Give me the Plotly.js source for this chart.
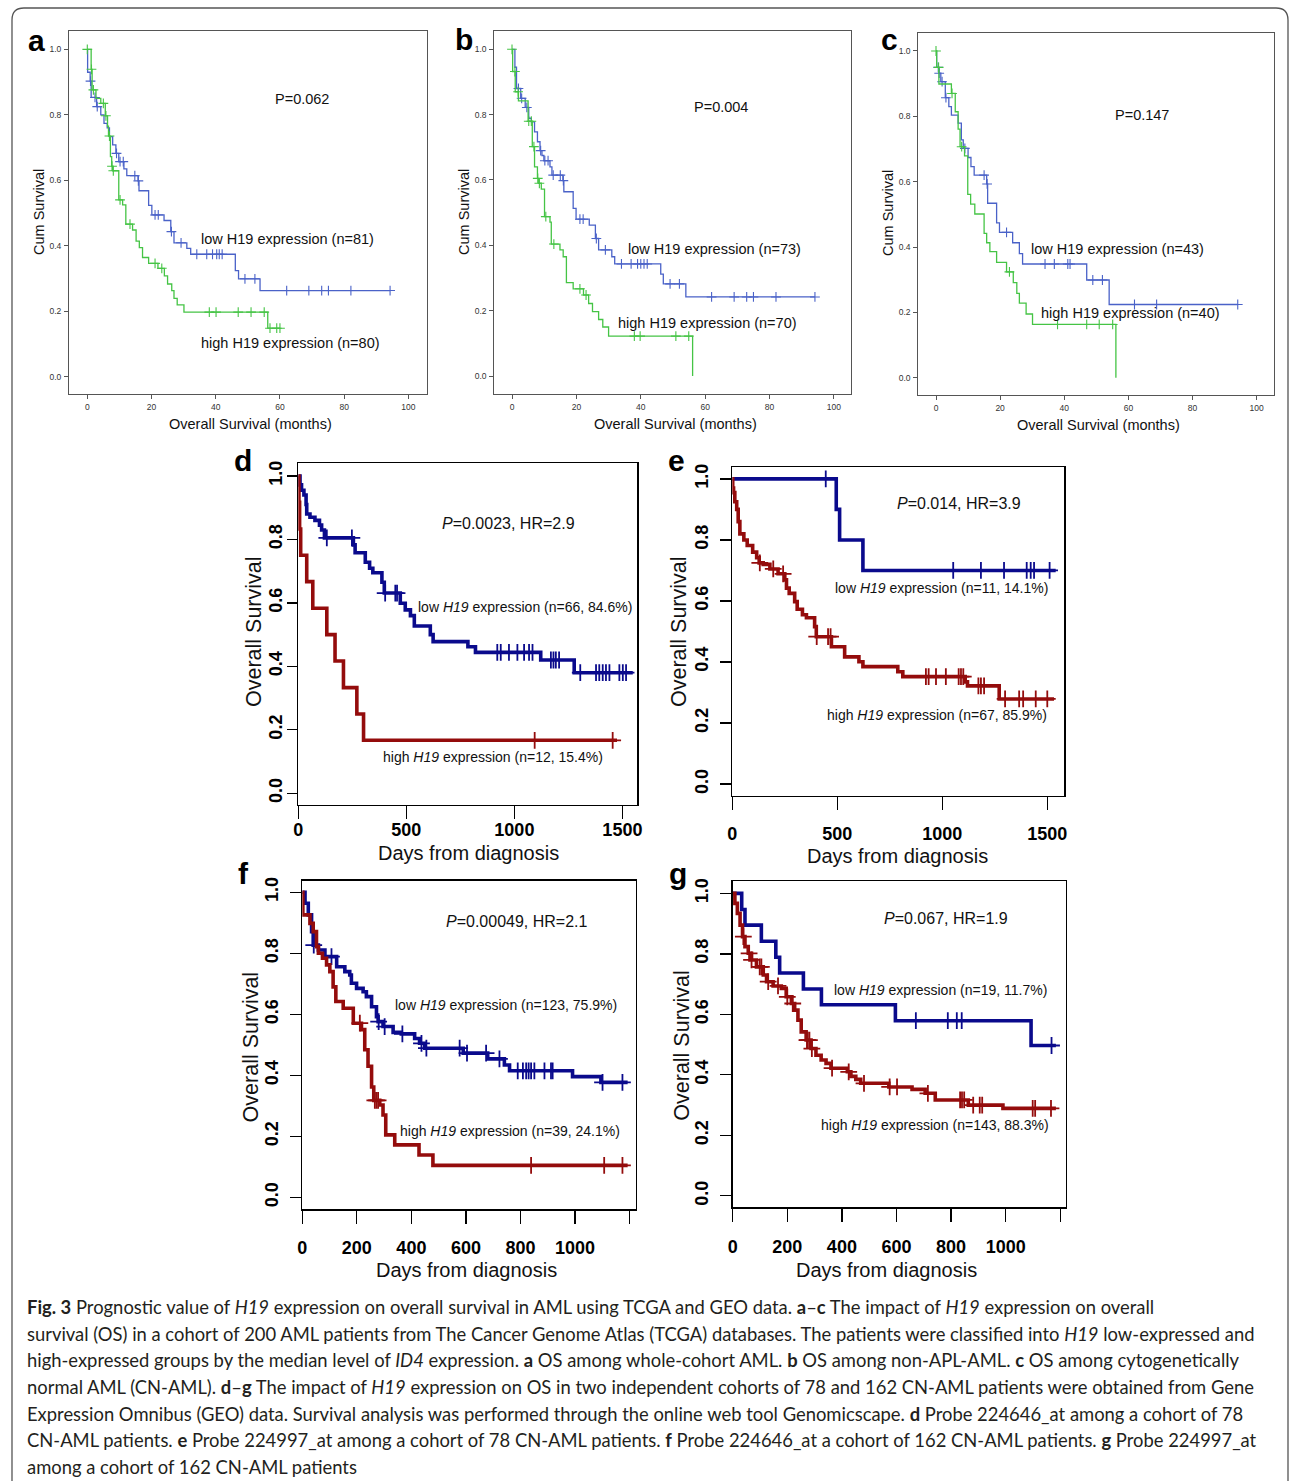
<!DOCTYPE html>
<html><head><meta charset="utf-8">
<script src="https://cdn.plot.ly/plotly-3.0.1.min.js"></script>
<style>html,body{margin:0;padding:0;background:#fff}#chart{width:1290px;height:1481px}</style>
</head><body><div id="chart"></div>
<script>
// ---------------- DATA ----------------
// Panel a (months)
const aLowT = [0, 0.1, 0.9, 1.2, 2.9, 4.2, 5.2, 6.2, 6.9, 7.9, 8.9, 9.8, 11.4, 12.3, 15.8, 16.1, 19.1, 20.1, 23.9, 26.0, 27.0, 31.0, 32.2, 46.1, 47.1, 53.8, 94.3];
const aLowS = [1.0, 0.93, 0.903, 0.853, 0.825, 0.80, 0.774, 0.76, 0.733, 0.708, 0.682, 0.657, 0.635, 0.614, 0.598, 0.568, 0.523, 0.494, 0.477, 0.443, 0.409, 0.392, 0.374, 0.324, 0.299, 0.263, 0.263];
const aLowC = [1.0, 2.4, 3.1, 9.1, 10.2, 11.2, 14.8, 15.9, 21.1, 22.1, 26.2, 29.2, 34.1, 37.2, 39.0, 40.3, 41.1, 42.0, 49.1, 52.2, 62.1, 69.0, 73.0, 75.1, 82.1, 94.3];
const aHighT = [0, 1.2, 1.5, 2.7, 4.2, 5.6, 6.3, 6.6, 7.2, 7.6, 7.9, 9.8, 11.0, 12.0, 14.1, 15.2, 16.2, 17.2, 19.1, 22.0, 24.0, 25.0, 26.3, 27.0, 28.0, 30.1, 56.2, 60.0];
const aHighS = [1.0, 0.939, 0.876, 0.85, 0.835, 0.797, 0.765, 0.735, 0.672, 0.643, 0.629, 0.54, 0.525, 0.466, 0.448, 0.414, 0.394, 0.364, 0.346, 0.331, 0.308, 0.283, 0.263, 0.239, 0.219, 0.197, 0.148, 0.148];
const aHighC = [0, 1.3, 1.9, 5.0, 5.8, 6.9, 7.7, 8.1, 10.2, 13.3, 21.1, 23.2, 38.0, 40.1, 47.0, 51.0, 55.1, 56.9, 59.0, 60.0];
// Panel b (months)
const bLowT = [0, 0.9, 1.4, 2.7, 4.1, 5.2, 6.0, 7.0, 7.9, 8.7, 9.3, 9.9, 11.8, 12.4, 15.8, 16.1, 19.0, 19.9, 24.0, 25.9, 26.9, 31.0, 31.9, 46.2, 47.0, 54.0, 94.1];
const bLowS = [1.0, 0.945, 0.88, 0.85, 0.822, 0.789, 0.778, 0.747, 0.717, 0.69, 0.675, 0.659, 0.64, 0.615, 0.598, 0.564, 0.513, 0.48, 0.462, 0.421, 0.386, 0.365, 0.343, 0.312, 0.282, 0.242, 0.242];
const bLowC = [2.0, 3.0, 4.6, 8.9, 10.2, 11.2, 12.8, 15.0, 15.95, 21.1, 22.1, 26.2, 29.0, 34, 37, 39, 40, 41, 42, 49.1, 52, 62, 69, 72.9, 75, 82, 94.1];
const bHighT = [0, 0.2, 1.0, 2.0, 5.0, 6.3, 7.0, 7.9, 8.3, 9.1, 10.1, 11.8, 12.2, 14.9, 15.9, 16.9, 19.0, 22.2, 23.8, 25.0, 26.9, 28.2, 30.0, 56.1];
const bHighS = [1.0, 0.932, 0.87, 0.842, 0.78, 0.702, 0.64, 0.605, 0.59, 0.572, 0.488, 0.471, 0.404, 0.386, 0.365, 0.286, 0.267, 0.248, 0.222, 0.197, 0.173, 0.15, 0.122, 0.0];
const bHighC = [0, 0.9, 1.9, 5.2, 6.0, 6.8, 8.0, 8.5, 10.5, 13.0, 21.1, 23.0, 38.0, 39.8, 50.9, 54.9];
// Panel c (months)
const cLowT = [0, 0.2, 0.9, 1.5, 2.9, 4.0, 4.8, 6.9, 7.9, 8.5, 10.0, 10.9, 11.9, 15.8, 16.1, 18.9, 19.8, 23.9, 26.0, 27.0, 47.0, 54.0, 94.1];
const cLowS = [1.0, 0.95, 0.932, 0.906, 0.857, 0.83, 0.804, 0.779, 0.728, 0.702, 0.674, 0.646, 0.62, 0.593, 0.534, 0.474, 0.445, 0.413, 0.38, 0.348, 0.299, 0.224, 0.224];
const cLowC = [0.7, 1.0, 1.9, 3.1, 9.0, 15.0, 15.95, 22.0, 34.0, 36.9, 41.1, 41.8, 48.9, 51.9, 61.9, 68.8, 94.1];
const cHighT = [0, 0.2, 0.9, 4.8, 6.0, 6.9, 7.5, 8.9, 9.9, 10.8, 12.1, 15.0, 15.8, 16.8, 18.9, 22.0, 24.1, 25.2, 26.0, 28.1, 30.1, 56.1];
const cHighS = [1.0, 0.95, 0.899, 0.87, 0.814, 0.761, 0.707, 0.679, 0.561, 0.531, 0.501, 0.442, 0.413, 0.386, 0.353, 0.324, 0.291, 0.258, 0.228, 0.195, 0.163, 0.0];
const cHighC = [0, 0.8, 5.0, 8.0, 22.9, 37.9, 47.0, 50.9, 55.1];
// Panel d (days)
const dLowT = [0, 8, 15, 26, 36, 39, 54, 77, 98, 108, 121, 255, 263, 310, 330, 345, 387, 398, 472, 495, 519, 537, 611, 624, 785, 820, 1122, 1277, 1548];
const dLowS = [1.0, 0.972, 0.955, 0.94, 0.91, 0.88, 0.87, 0.86, 0.845, 0.83, 0.805, 0.783, 0.758, 0.728, 0.709, 0.695, 0.665, 0.631, 0.599, 0.578, 0.56, 0.527, 0.50, 0.478, 0.462, 0.444, 0.42, 0.38, 0.38];
const dLowC = [132, 248, 402, 449, 457, 921, 937, 975, 1014, 1045, 1068, 1084, 1169, 1181, 1192, 1207, 1305, 1378, 1393, 1409, 1424, 1440, 1486, 1502, 1517];
const dHighT = [0, 3, 6, 11, 39, 67, 132, 170, 209, 271, 302, 1475];
const dHighS = [1.0, 0.917, 0.833, 0.75, 0.667, 0.583, 0.5, 0.417, 0.333, 0.25, 0.167, 0.167];
const dHighC = [1094, 1455];
// Panel e (days)
const eLowT = [0, 495, 511, 622, 1540];
const eLowS = [1.0, 0.9, 0.8, 0.7, 0.7];
const eLowC = [445, 1052, 1184, 1294, 1402, 1421, 1437, 1511];
const eHighT = [0, 2, 6, 12, 21, 28, 36, 55, 71, 97, 116, 128, 147, 179, 218, 250, 258, 271, 297, 309, 334, 353, 392, 400, 472, 535, 603, 622, 788, 812, 1109, 1120, 1271, 1532];
const eHighS = [1.0, 0.97, 0.955, 0.925, 0.9, 0.86, 0.82, 0.8, 0.782, 0.76, 0.742, 0.725, 0.72, 0.705, 0.689, 0.669, 0.642, 0.625, 0.598, 0.573, 0.555, 0.545, 0.516, 0.483, 0.45, 0.417, 0.401, 0.385, 0.368, 0.352, 0.335, 0.322, 0.279, 0.279];
const eHighC = [131, 195, 242, 402, 456, 468, 922, 935, 970, 1017, 1078, 1089, 1100, 1172, 1184, 1199, 1299, 1366, 1385, 1445, 1500];
// Panel f (days)
const fLowT = [0, 10, 22, 34, 40, 59, 83, 126, 156, 174, 180, 199, 223, 235, 254, 272, 278, 296, 333, 363, 412, 430, 449, 590, 680, 741, 760, 991, 1095, 1193];
const fLowS = [1.0, 0.964, 0.926, 0.871, 0.827, 0.811, 0.789, 0.756, 0.74, 0.729, 0.702, 0.685, 0.674, 0.658, 0.625, 0.592, 0.576, 0.56, 0.541, 0.536, 0.521, 0.505, 0.489, 0.473, 0.454, 0.434, 0.415, 0.396, 0.377, 0.377];
const fLowC = [42, 107, 280, 302, 367, 437, 455, 577, 604, 674, 723, 790, 809, 821, 830, 839, 851, 888, 912, 918, 1101, 1174];
const fHighT = [0, 2, 28, 40, 52, 59, 74, 89, 101, 113, 123, 150, 187, 217, 229, 241, 254, 262, 284, 296, 306, 339, 428, 479, 1193];
const fHighS = [1.0, 0.926, 0.898, 0.871, 0.822, 0.80, 0.784, 0.762, 0.74, 0.69, 0.642, 0.62, 0.571, 0.55, 0.484, 0.43, 0.362, 0.318, 0.303, 0.27, 0.205, 0.172, 0.139, 0.105, 0.105];
const fHighC = [211, 266, 272, 278, 839, 1107, 1174];
// Panel g (days)
const gLowT = [0, 33, 45, 105, 158, 172, 259, 325, 596, 1093, 1184];
const gLowS = [1.0, 0.947, 0.895, 0.842, 0.789, 0.737, 0.684, 0.632, 0.579, 0.497, 0.497];
const gLowC = [671, 788, 821, 839, 1168];
const gHighT = [0, 8, 17, 27, 36, 45, 57, 69, 87, 112, 124, 148, 178, 196, 215, 227, 239, 251, 269, 287, 305, 324, 342, 360, 420, 433, 451, 469, 572, 657, 705, 742, 863, 990, 1184];
const gHighS = [1.0, 0.967, 0.934, 0.895, 0.857, 0.824, 0.802, 0.78, 0.757, 0.73, 0.708, 0.694, 0.686, 0.658, 0.636, 0.614, 0.581, 0.542, 0.515, 0.487, 0.465, 0.449, 0.438, 0.422, 0.41, 0.395, 0.385, 0.372, 0.36, 0.352, 0.339, 0.317, 0.30, 0.289, 0.289];
const gHighC = [39, 60, 69, 99, 105, 130, 166, 200, 220, 272, 275, 281, 290, 364, 425, 481, 575, 602, 715, 833, 840, 848, 881, 905, 914, 1099, 1108, 1166];

// Texts
const pValues = ["P=0.062", "P=0.004", "P=0.147", "<i>P</i>=0.0023, HR=2.9", "<i>P</i>=0.014, HR=3.9", "<i>P</i>=0.00049, HR=2.1", "<i>P</i>=0.067, HR=1.9"];
const lowLabels = ["low H19 expression (n=81)", "low H19 expression (n=73)", "low H19 expression (n=43)",
  "low <i>H19</i> expression (n=66, 84.6%)", "low <i>H19</i> expression (n=11, 14.1%)", "low <i>H19</i> expression (n=123, 75.9%)", "low <i>H19</i> expression (n=19, 11.7%)"];
const highLabels = ["high H19 expression (n=80)", "high H19 expression (n=70)", "high H19 expression (n=40)",
  "high <i>H19</i> expression (n=12, 15.4%)", "high <i>H19</i> expression (n=67, 85.9%)", "high <i>H19</i> expression (n=39, 24.1%)", "high <i>H19</i> expression (n=143, 88.3%)"];
const panelLetters = ["a", "b", "c", "d", "e", "f", "g"];
const spssXTicks = [0, 20, 40, 60, 80, 100];
const survTicks = [0, 0.2, 0.4, 0.6, 0.8, 1.0];
const dayTicksDE = [0, 500, 1000, 1500];
const dayTicksFG = [0, 200, 400, 600, 800, 1000, 1200];
const dayTextFG = ["0", "200", "400", "600", "800", "1000", ""];
const captionLines = [
  "<b>Fig. 3</b> Prognostic value of <i>H19</i> expression on overall survival in AML using TCGA and GEO data. <b>a</b>–<b>c</b> The impact of <i>H19</i> expression on overall",
  "survival (OS) in a cohort of 200 AML patients from The Cancer Genome Atlas (TCGA) databases. The patients were classified into <i>H19</i> low-expressed and",
  "high-expressed groups by the median level of <i>ID4</i> expression. <b>a</b> OS among whole-cohort AML. <b>b</b> OS among non-APL-AML. <b>c</b> OS among cytogenetically",
  "normal AML (CN-AML). <b>d</b>–<b>g</b> The impact of <i>H19</i> expression on OS in two independent cohorts of 78 and 162 CN-AML patients were obtained from Gene",
  "Expression Omnibus (GEO) data. Survival analysis was performed through the online web tool Genomicscape. <b>d</b> Probe 224646_at among a cohort of 78",
  "CN-AML patients. <b>e</b> Probe 224997_at among a cohort of 78 CN-AML patients. <b>f</b> Probe 224646_at a cohort of 162 CN-AML patients. <b>g</b> Probe 224997_at",
  "among a cohort of 162 CN-AML patients"
];

// ---------------- LAYOUT / STYLE ----------------
const W = 1290, H = 1481;
const fx = x => x / W, fy = y => 1 - y / H;
const SANS = "Liberation Sans, Arial, sans-serif";
const SPSS = {blue: "#4a62c8", green: "#45c445", frame: "#555555"};
const RCOL = {blue: "#0a0a8c", red: "#940c0c"};

const panelData = [
  {low: [aLowT, aLowS, aLowC], high: [aHighT, aHighS, aHighC]},
  {low: [bLowT, bLowS, bLowC], high: [bHighT, bHighS, bHighC]},
  {low: [cLowT, cLowS, cLowC], high: [cHighT, cHighS, cHighC]},
  {low: [dLowT, dLowS, dLowC], high: [dHighT, dHighS, dHighC]},
  {low: [eLowT, eLowS, eLowC], high: [eHighT, eHighS, eHighC]},
  {low: [fLowT, fLowS, fLowC], high: [fHighT, fHighS, fHighC]},
  {low: [gLowT, gLowS, gLowC], high: [gHighT, gHighS, gHighC]}
];

// geometry in pixels
const geo = [
  {fr: [69, 31, 427, 394], xr: [-5.7, 105.8], yr: [-0.053, 1.056], kind: "spss",
   letter: [36.5, 40], p: [301.7, 99.3], lo: [287.7, 239.3], hi: [290.7, 343.3], xt: [250, 424], yt: [38.3, 211.7]},
  {fr: [494.3, 31, 851, 394], xr: [-5.5, 105.3], yr: [-0.055, 1.056], kind: "spss",
   letter: [464, 39], p: [720.7, 106.7], lo: [714, 249.3], hi: [707.3, 323.3], xt: [675, 424], yt: [463.3, 211.7]},
  {fr: [918.3, 32.7, 1274.3, 395], xr: [-5.52, 105.5], yr: [-0.053, 1.056], kind: "spss",
   letter: [889.5, 39], p: [1141.7, 115], lo: [1117.7, 249.3], hi: [1130.7, 312.7], xt: [1098.3, 425], yt: [887.3, 212.7]},
  {fr: [298.3, 463.3, 637.3, 805], xr: [0, 1569], yr: [-0.037, 1.04], kind: "r", xt4: "de", tlx: 13, tly: 10, sx: -5, sy: -2,
   letter: [242.5, 460], p: [508.7, 523.3], lo: [525.3, 606.7], hi: [493.3, 756.7], xt: [468, 853], yt: [253.3, 631.7]},
  {fr: [732.3, 467.3, 1064.3, 795.7], xr: [0, 1581], yr: [-0.038, 1.038], kind: "r", xt4: "de", tlx: 13, tly: 11, sx: 8, sy: 5,
   letter: [676.5, 460], p: [959.3, 503.3], lo: [941.7, 587.7], hi: [937.3, 715], xt: [898, 856], yt: [678.3, 631.7]},
  {fr: [302.3, 880.7, 635.7, 1209.3], xr: [0, 1222.6], yr: [-0.039, 1.038], kind: "r", xt4: "fg", tlx: 13, tly: 11, sx: 9, sy: 5,
   letter: [243.5, 873], p: [517.3, 921], lo: [505.7, 1005], hi: [510, 1130.7], xt: [466.7, 1269.5], yt: [250.7, 1046.7]},
  {fr: [732.7, 881, 1066, 1207.3], xr: [0, 1221], yr: [-0.038, 1.041], kind: "r", xt4: "fg", tlx: 13, tly: 11, sx: 10, sy: 5,
   letter: [677.5, 873], p: [946, 918.3], lo: [940, 990], hi: [935, 1125], xt: [886.7, 1269.5], yt: [681.7, 1045]}
];

function stepAt(T, S, t) {
  let v = S[0];
  for (let i = 0; i < T.length; i++) { if (T[i] <= t) v = S[i]; }
  return v;
}

const traces = [];
const layout = {
  width: W, height: H, margin: {l: 0, r: 0, t: 0, b: 0},
  paper_bgcolor: "#ffffff", plot_bgcolor: "#ffffff", showlegend: false,
  font: {family: SANS, color: "#222"}, annotations: [], shapes: []
};

geo.forEach((g, i) => {
  const n = i === 0 ? "" : String(i + 1);
  const xa = "x" + n, ya = "y" + n;
  const spss = g.kind === "spss";
  const cols = spss ? [SPSS.blue, SPSS.green] : [RCOL.blue, RCOL.red];
  const groups = [panelData[i].low, panelData[i].high];
  groups.forEach((grp, k) => {
    const [T, S, C] = grp;
    traces.push({x: T, y: S, xaxis: xa, yaxis: ya, mode: "lines", type: "scatter",
      line: {shape: "hv", color: cols[k], width: spss ? 1.3 : 3.6}, hoverinfo: "skip"});
    traces.push({x: C, y: C.map(t => stepAt(T, S, t)), xaxis: xa, yaxis: ya, mode: "markers", type: "scatter",
      marker: {symbol: "cross-thin-open", size: spss ? 7 : 12, color: cols[k], line: {color: cols[k], width: spss ? 1.1 : 1.8}},
      hoverinfo: "skip"});
  });
  const dom = {x: [fx(g.fr[0]), fx(g.fr[2])], y: [fy(g.fr[3]), fy(g.fr[1])]};
  let xax, yax;
  if (spss) {
    const common = {showline: true, mirror: true, linecolor: SPSS.frame, linewidth: 1, ticks: "outside",
      ticklen: 4, tickwidth: 1, tickcolor: SPSS.frame, showgrid: false, zeroline: false,
      tickfont: {size: 8.5, color: "#333", family: SANS}, fixedrange: true};
    xax = Object.assign({}, common, {domain: dom.x, range: g.xr, tickvals: spssXTicks, anchor: ya, ticklabelstandoff: 1});
    yax = Object.assign({}, common, {domain: dom.y, range: g.yr, tickvals: survTicks, tickformat: ".1f", anchor: xa, ticklabelstandoff: 1});
  } else {
    const common = {showline: true, mirror: true, linecolor: "#000", linewidth: 1.3, ticks: "outside",
      tickwidth: 1.3, tickcolor: "#000", showgrid: false, zeroline: false,
      tickfont: {size: 18, color: "#000", family: SANS, weight: "bold"}, fixedrange: true};
    const isDE = g.xt4 === "de";
    xax = Object.assign({}, common, {domain: dom.x, range: g.xr, anchor: ya, ticklen: g.tlx,
      tickvals: isDE ? dayTicksDE : dayTicksFG, ticktext: isDE ? dayTicksDE.map(String) : dayTextFG,
      ticklabelstandoff: g.sx});
    yax = Object.assign({}, common, {domain: dom.y, range: g.yr, anchor: xa, tickvals: survTicks, ticklen: g.tly,
      tickformat: ".1f", tickangle: -90, ticklabelstandoff: g.sy});
  }
  layout["xaxis" + n] = xax;
  layout["yaxis" + n] = yax;

  const A = (text, p, font, extra) => Object.assign({text, x: fx(p[0]), y: fy(p[1]), xref: "paper", yref: "paper",
    showarrow: false, xanchor: "center", yanchor: "middle", font}, extra || {});
  const txtSize = spss ? 14.5 : 14;
  layout.annotations.push(A(panelLetters[i], g.letter, {size: 30, family: SANS, weight: "bold", color: "#000"}));
  layout.annotations.push(A(pValues[i], g.p, {size: spss ? 14.5 : 16, family: SANS, color: "#111"}));
  layout.annotations.push(A(lowLabels[i], g.lo, {size: txtSize, family: SANS, color: "#111"}));
  layout.annotations.push(A(highLabels[i], g.hi, {size: txtSize, family: SANS, color: "#111"}));
  layout.annotations.push(A(spss ? "Overall Survival (months)" : "Days from diagnosis", g.xt,
    {size: spss ? 14.5 : 20, family: SANS, color: "#111"}));
  layout.annotations.push(A(spss ? "Cum Survival" : "Overall Survival", g.yt,
    {size: spss ? 14.5 : 21.5, family: SANS, color: "#111"}, {textangle: -90}));
});

// caption
captionLines.forEach((line, k) => {
  layout.annotations.push({text: line, x: fx(25), y: fy(1307 + k * 26.65), xref: "paper", yref: "paper",
    showarrow: false, xanchor: "left", yanchor: "middle", align: "left",
    font: {size: 18.4, family: "Lato, Open Sans, sans-serif", color: "#231f20"}});
});

// outer rounded frame
const P = (x, y) => fx(x).toFixed(5) + "," + fy(y).toFixed(5);
layout.shapes.push({type: "path", xref: "paper", yref: "paper", layer: "below",
  path: "M" + P(12, 1481) + " L" + P(12, 20) + " Q" + P(12, 8) + " " + P(24, 8) + " L" + P(1276, 8) +
        " Q" + P(1288, 8) + " " + P(1288, 20) + " L" + P(1288, 1481),
  line: {color: "#555", width: 1.3}});

Plotly.newPlot("chart", traces, layout, {staticPlot: true, displayModeBar: false});
</script></body></html>
